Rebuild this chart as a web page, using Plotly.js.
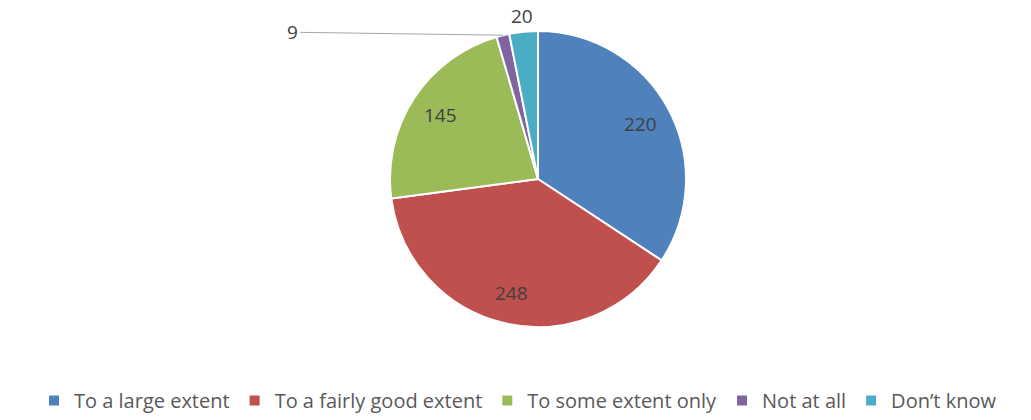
<!DOCTYPE html>
<html>
<head>
<meta charset="utf-8">
<script src="https://cdn.plot.ly/plotly-3.0.1.min.js"></script>
<style>html,body{margin:0;padding:0;background:#fff;}#chart{width:1031px;height:420px;}</style>
</head>
<body>
<div id="chart"></div>
<script>
const categories = ["To a large extent", "To a fairly good extent", "To some extent only", "Not at all", "Don\u2019t know"];
const values = [220, 248, 145, 9, 20];
const colors = ["#4F81BD", "#C0504D", "#9BBB59", "#8064A2", "#4BACC6"];
// label placement style per slice: "inside" near rim, "above" just outside, "leader" with a leader line
const labelStyle = ["inside", "inside", "inside", "leader", "above"];

const W = 1031, H = 420;
const cx = 538, cy = 179, r = 148;
const FONT = "'Open Sans', Lato, sans-serif";

const trace = {
  type: "pie",
  labels: categories,
  values: values,
  sort: false,
  direction: "clockwise",
  rotation: 0,
  marker: { colors: colors, line: { color: "#ffffff", width: 2 } },
  textinfo: "none",
  hoverinfo: "label+value",
  domain: { x: [(cx - r) / W, (cx + r) / W], y: [(H - cy - r) / H, (H - cy + r) / H] }
};

// data labels derived from the values (angle of each slice mid-point)
const total = values.reduce((a, b) => a + b, 0);
const annotations = [];
let cum = 0;
values.forEach((v, i) => {
  const mid = (cum + v / 2) / total * 2 * Math.PI;
  cum += v;
  const sx = Math.sin(mid), sy = Math.cos(mid);
  const st = labelStyle[i];
  const base = { xref: "paper", yref: "paper", text: String(v),
    xanchor: "center", yanchor: "middle",
    font: { family: FONT, size: 19, color: "#404040" } };
  if (st === "inside") {
    const k = 0.79 * r;
    annotations.push(Object.assign(base, { x: (cx + k * sx) / W, y: 1 - (cy - k * sy) / H, showarrow: false }));
  } else if (st === "above") {
    const k = 1.11 * r;
    annotations.push(Object.assign(base, { x: (cx + k * sx) / W, y: 1 - (cy - k * sy) / H, showarrow: false }));
  } else {
    const k = r;
    annotations.push(Object.assign(base, {
      x: (cx + k * sx) / W, y: 1 - (cy - k * sy) / H,
      showarrow: true, arrowhead: 0, arrowwidth: 1, arrowcolor: "#A6A6A6",
      ax: -210, ay: -3, standoff: 0, startstandoff: 0
    }));
  }
});

const layout = {
  width: W, height: H,
  margin: { l: 0, r: 0, t: 0, b: 0, autoexpand: false },
  paper_bgcolor: "#ffffff",
  showlegend: true,
  legend: {
    orientation: "h",
    x: 518 / W, xanchor: "center",
    y: 0, yanchor: "bottom",
    font: { family: FONT, size: 20, color: "#595959" },
    traceorder: "normal"
  },
  annotations: annotations,
  font: { family: FONT }
};

Plotly.newPlot("chart", [trace], layout, { displayModeBar: false, staticPlot: true });
</script>
</body>
</html>
